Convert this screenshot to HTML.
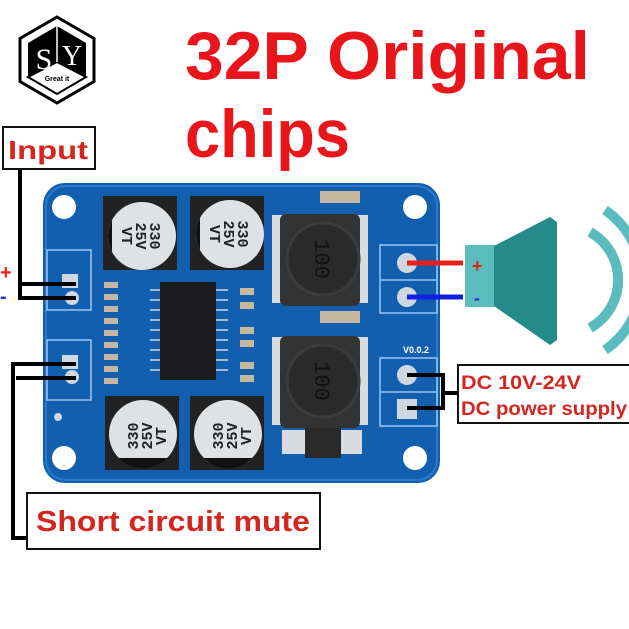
<!DOCTYPE html>
<html><head><meta charset="utf-8"><style>
html,body{margin:0;padding:0;background:#fff;}
svg{display:block}
</style></head><body>
<svg width="629" height="629" viewBox="0 0 629 629" xmlns="http://www.w3.org/2000/svg" font-family="Liberation Sans, sans-serif">
<rect width="629" height="629" fill="#fff"/>
<g>
<polygon points="57,17 94,38.5 94,81.5 57,103 20,81.5 20,38.5" fill="none" stroke="#000" stroke-width="3"/>
<polygon points="57,26 86,43 86,77 57,94 28,77 28,43" fill="#000"/>
<polygon points="57,62 86,77 57,94 28,77" fill="#fff" stroke="#000" stroke-width="2"/>
<line x1="57" y1="26" x2="57" y2="62" stroke="#fff" stroke-width="1.5"/>
<text x="44" y="69" font-family="Liberation Serif, serif" font-size="30" fill="#fff" text-anchor="middle">S</text>
<text x="72" y="65" font-family="Liberation Serif, serif" font-size="28" fill="#fff" text-anchor="middle">Y</text>
<text x="57" y="81" font-size="7" font-weight="bold" fill="#000" text-anchor="middle">Great it</text>
</g>
<text x="185" y="79" font-size="68" font-weight="bold" fill="#e8161b" textLength="405" lengthAdjust="spacingAndGlyphs">32P Original</text>
<text x="185" y="157" font-size="68" font-weight="bold" fill="#e8161b" textLength="165" lengthAdjust="spacingAndGlyphs">chips</text>
<rect x="43" y="183" width="397" height="300" rx="22" fill="#125fb0"/>
<rect x="46" y="186" width="391" height="294" rx="20" fill="none" stroke="#2a7ad0" stroke-width="2"/>
<circle cx="64" cy="207" r="12" fill="#fff"/><circle cx="415" cy="207" r="12" fill="#fff"/>
<circle cx="64" cy="458" r="12" fill="#fff"/><circle cx="415" cy="458" r="12" fill="#fff"/>
<rect x="47" y="250" width="44" height="60" fill="none" stroke="#9cc4ee" stroke-width="1.5"/>
<rect x="47" y="340" width="44" height="60" fill="none" stroke="#9cc4ee" stroke-width="1.5"/>
<rect x="62" y="274" width="16" height="14" fill="#cfd8e0"/><circle cx="72" cy="298" r="7" fill="#cfd8e0"/>
<rect x="62" y="355" width="16" height="14" fill="#cfd8e0"/><circle cx="72" cy="377" r="7" fill="#cfd8e0"/>
<circle cx="58" cy="417" r="4" fill="#cfd8e0"/>
<g>
<rect x="103" y="196" width="74" height="74" fill="#222"/><rect x="190" y="196" width="74" height="74" fill="#222"/>
<rect x="105" y="396" width="74" height="74" fill="#222"/><rect x="190" y="396" width="74" height="74" fill="#222"/>
<circle cx="142" cy="236" r="34" fill="#dfe2e4"/><circle cx="230" cy="234" r="34" fill="#dfe2e4"/>
<circle cx="143" cy="434" r="34" fill="#dfe2e4"/><circle cx="228" cy="434" r="34" fill="#dfe2e4"/>
<path d="M112,220 A34,34 0 0 0 112,252 Z" fill="#111"/>
<path d="M200,218 A34,34 0 0 0 200,250 Z" fill="#111"/>
<path d="M118.6,458 A34,34 0 0 0 167.4,458 Z" fill="#111"/>
<path d="M203.6,458 A34,34 0 0 0 252.4,458 Z" fill="#111"/>
<g font-size="15" font-weight="bold" fill="#222" font-family="Liberation Mono, monospace">
<text transform="translate(150,236) rotate(90)" text-anchor="middle">330</text>
<text transform="translate(136,236) rotate(90)" text-anchor="middle">25V</text>
<text transform="translate(122,236) rotate(90)" text-anchor="middle">VT</text>
<text transform="translate(238,234) rotate(90)" text-anchor="middle">330</text>
<text transform="translate(224,234) rotate(90)" text-anchor="middle">25V</text>
<text transform="translate(210,234) rotate(90)" text-anchor="middle">VT</text>
<text transform="translate(138,436) rotate(-90)" text-anchor="middle">330</text>
<text transform="translate(152,436) rotate(-90)" text-anchor="middle">25V</text>
<text transform="translate(166,436) rotate(-90)" text-anchor="middle">VT</text>
<text transform="translate(223,436) rotate(-90)" text-anchor="middle">330</text>
<text transform="translate(237,436) rotate(-90)" text-anchor="middle">25V</text>
<text transform="translate(251,436) rotate(-90)" text-anchor="middle">VT</text>
</g>
</g>
<g fill="#c9b8a0">
<rect x="104" y="282" width="14" height="6"/><rect x="104" y="294" width="14" height="6"/><rect x="104" y="306" width="14" height="6"/>
<rect x="104" y="318" width="14" height="6"/><rect x="104" y="330" width="14" height="6"/><rect x="104" y="342" width="14" height="6"/>
<rect x="104" y="354" width="14" height="6"/><rect x="104" y="366" width="14" height="6"/><rect x="104" y="378" width="14" height="6"/>
<rect x="240" y="288" width="14" height="7"/><rect x="240" y="302" width="14" height="7"/><rect x="240" y="327" width="14" height="7"/>
<rect x="240" y="340" width="14" height="7"/><rect x="240" y="362" width="14" height="7"/><rect x="240" y="375" width="14" height="7"/>
<rect x="320" y="311" width="40" height="12"/><rect x="320" y="191" width="40" height="12"/>
</g>
<g stroke="#cfd8e0" stroke-width="1.5">
<line x1="150" y1="290" x2="228" y2="290"/><line x1="150" y1="300" x2="228" y2="300"/><line x1="150" y1="310" x2="228" y2="310"/>
<line x1="150" y1="320" x2="228" y2="320"/><line x1="150" y1="330" x2="228" y2="330"/><line x1="150" y1="340" x2="228" y2="340"/>
<line x1="150" y1="350" x2="228" y2="350"/><line x1="150" y1="360" x2="228" y2="360"/><line x1="150" y1="370" x2="228" y2="370"/>
</g>
<rect x="160" y="282" width="56" height="98" fill="#1c1c1e"/>
<rect x="272" y="215" width="96" height="88" fill="#d8dcdf"/><rect x="280" y="214" width="80" height="92" rx="6" fill="#333"/>
<circle cx="323" cy="259" r="36" fill="#2a2a2a" stroke="#3c3c3c" stroke-width="3"/>
<rect x="272" y="337" width="96" height="88" fill="#d8dcdf"/><rect x="280" y="336" width="80" height="92" rx="6" fill="#333"/>
<circle cx="323" cy="381" r="36" fill="#2a2a2a" stroke="#3c3c3c" stroke-width="3"/>
<text transform="translate(323,259) rotate(90)" font-size="22" fill="#111" text-anchor="middle" dy="8" font-family="Liberation Mono, monospace">100</text>
<text transform="translate(323,381) rotate(90)" font-size="22" fill="#111" text-anchor="middle" dy="8" font-family="Liberation Mono, monospace">100</text>
<rect x="282" y="430" width="80" height="24" fill="#d8dcdf"/><rect x="305" y="428" width="36" height="30" fill="#2a2a2a"/>
<rect x="380" y="245" width="57" height="68" fill="none" stroke="#9cc4ee" stroke-width="1.5"/>
<line x1="380" y1="280" x2="437" y2="280" stroke="#9cc4ee" stroke-width="1.5"/>
<rect x="380" y="358" width="57" height="68" fill="none" stroke="#9cc4ee" stroke-width="1.5"/>
<line x1="380" y1="392" x2="437" y2="392" stroke="#9cc4ee" stroke-width="1.5"/>
<circle cx="407" cy="263" r="10" fill="#cfd8e0"/><circle cx="407" cy="297" r="10" fill="#cfd8e0"/>
<circle cx="407" cy="375" r="10" fill="#cfd8e0"/><rect x="397" y="399" width="20" height="20" fill="#cfd8e0"/>
<text x="403" y="353" font-size="9" fill="#fff" font-weight="bold">V0.0.2</text>
<g stroke="#000" stroke-width="4" fill="none">
<polyline points="20,168 20,298 76,298"/><line x1="20" y1="284" x2="76" y2="284"/>
<polyline points="76,364 13,364 13,538 27,538"/><line x1="16" y1="378" x2="76" y2="378"/>
<polyline points="407,375 443,375 443,408 407,408"/><line x1="443" y1="393" x2="458" y2="393"/>
</g>
<line x1="407" y1="263" x2="463" y2="263" stroke="#e8201a" stroke-width="5"/>
<line x1="407" y1="297" x2="463" y2="297" stroke="#1020e0" stroke-width="5"/>
<text x="0" y="279" font-size="20" font-weight="bold" fill="#e8201a">+</text>
<text x="0" y="303" font-size="20" font-weight="bold" fill="#2030d0">-</text>
<rect x="465" y="245" width="31" height="62" fill="#5cbcbc"/>
<polygon points="494,246 550,217 557,222 557,340 550,345 494,306" fill="#258a8a"/>
<text x="472" y="272" font-size="18" font-weight="bold" fill="#e8201a">+</text>
<text x="474" y="304" font-size="18" font-weight="bold" fill="#2030d0">-</text>
<path d="M590,232 A55,55 0 0 1 590,328" fill="none" stroke="#5bbcc0" stroke-width="10"/>
<path d="M605,210 A85,85 0 0 1 605,350" fill="none" stroke="#5bbcc0" stroke-width="10"/>
<rect x="3" y="127" width="92" height="42" fill="#fff" stroke="#111" stroke-width="2"/>
<text x="8" y="159" font-size="26" font-weight="bold" fill="#d4251e" textLength="80" lengthAdjust="spacingAndGlyphs">Input</text>
<rect x="27" y="493" width="293" height="56" fill="#fff" stroke="#111" stroke-width="2"/>
<text x="36" y="531" font-size="29" font-weight="bold" fill="#d4251e" textLength="274" lengthAdjust="spacingAndGlyphs">Short circuit mute</text>
<rect x="458" y="365" width="173" height="58" fill="#fff" stroke="#111" stroke-width="2"/>
<text x="461" y="389" font-size="19" font-weight="bold" fill="#d4251e" textLength="120" lengthAdjust="spacingAndGlyphs">DC 10V-24V</text>
<text x="461" y="415" font-size="19" font-weight="bold" fill="#d4251e" textLength="166" lengthAdjust="spacingAndGlyphs">DC power supply</text>
</svg>
</body></html>
